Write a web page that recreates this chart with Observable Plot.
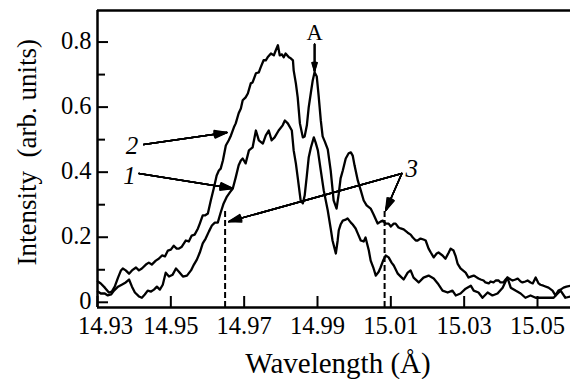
<!DOCTYPE html>
<html>
<head>
<meta charset="utf-8">
<script src="https://cdn.jsdelivr.net/npm/d3@7"></script>
<script src="https://cdn.jsdelivr.net/npm/@observablehq/plot@0.6"></script>
<style>
  html, body { margin: 0; padding: 0; background: #fff; }
  #chart svg { display: block; }
  #chart svg, #chart svg text, #chart svg g { font-family: "Liberation Serif", "Times New Roman", Times, serif !important; }
</style>
</head>
<body>
<div id="chart"></div>
<script>
// ---- Data ----
// Curve 2 (upper spectrum)
const wl2 = [14.9301,14.9309,14.9320,14.9331,14.9339,14.9347,14.9356,14.9364,14.9369,14.9377,
14.9386,14.9394,14.9405,14.9413,14.9421,14.9432,14.9440,14.9448,14.9459,14.9467,
14.9476,14.9484,14.9492,14.9500,14.9508,14.9516,14.9522,14.9530,14.9541,14.9549,
14.9557,14.9565,14.9574,14.9579,14.9587,14.9593,14.9601,14.9609,14.9617,14.9625,
14.9631,14.9636,14.9642,14.9650,14.9658,14.9664,14.9672,14.9677,14.9685,14.9691,
14.9696,14.9704,14.9710,14.9718,14.9723,14.9732,14.9740,14.9745,14.9753,14.9759,
14.9764,14.9773,14.9781,14.9786,14.9792,14.9797,14.9803,14.9808,14.9813,14.9822,
14.9827,14.9833,14.9835,14.9841,14.9846,14.9852,14.9860,14.9865,14.9871,14.9876,
14.9882,14.9887,14.9892,14.9898,14.9903,14.9909,14.9914,14.9920,14.9928,14.9936,
14.9944,14.9952,14.9958,14.9963,14.9969,14.9977,14.9985,14.9991,14.9996,15.0001,
15.0010,15.0018,15.0026,15.0034,15.0045,15.0053,15.0064,15.0072,15.0078,15.0086,
15.0094,15.0100,15.0108,15.0113,15.0121,15.0127,15.0135,15.0146,15.0154,15.0160,
15.0168,15.0173,15.0181,15.0189,15.0195,15.0203,15.0209,15.0217,15.0225,15.0230,
15.0241,15.0249,15.0258,15.0263,15.0271,15.0277,15.0282,15.0290,15.0304,15.0312,
15.0318,15.0326,15.0331,15.0339,15.0345,15.0353,15.0358,15.0367,15.0372,15.0380,
15.0386,15.0394,15.0399,15.0407,15.0413,15.0418,15.0427,15.0432,15.0440,15.0446,
15.0454,15.0459,15.0467,15.0473,15.0481,15.0487,15.0495,15.0503,15.0508,15.0516,
15.0530,15.0541,15.0549,15.0557,15.0563,15.0571,15.0579,15.0590];
const int2 = [0.064,0.058,0.045,0.030,0.033,0.048,0.076,0.098,0.104,0.098,
0.088,0.098,0.107,0.098,0.104,0.116,0.122,0.116,0.128,0.134,
0.144,0.141,0.159,0.162,0.174,0.165,0.165,0.171,0.190,0.187,
0.205,0.208,0.227,0.242,0.267,0.267,0.273,0.313,0.350,0.390,
0.405,0.411,0.436,0.482,0.498,0.513,0.538,0.550,0.581,0.596,
0.621,0.630,0.642,0.673,0.676,0.704,0.707,0.722,0.744,0.744,
0.753,0.765,0.759,0.774,0.790,0.759,0.762,0.753,0.765,0.753,
0.750,0.744,0.713,0.673,0.630,0.550,0.507,0.510,0.544,0.599,
0.645,0.682,0.707,0.694,0.636,0.559,0.510,0.494,0.470,0.405,
0.313,0.288,0.334,0.381,0.405,0.442,0.458,0.461,0.451,0.421,
0.374,0.344,0.313,0.298,0.288,0.270,0.242,0.248,0.251,0.242,
0.242,0.233,0.242,0.242,0.230,0.227,0.224,0.214,0.208,0.199,
0.190,0.190,0.196,0.193,0.190,0.165,0.153,0.138,0.150,0.153,
0.144,0.134,0.153,0.165,0.159,0.141,0.119,0.104,0.091,0.076,
0.079,0.082,0.079,0.073,0.070,0.067,0.061,0.058,0.064,0.061,
0.067,0.067,0.061,0.061,0.070,0.076,0.070,0.067,0.070,0.073,
0.064,0.061,0.064,0.067,0.061,0.058,0.076,0.058,0.054,0.051,
0.045,0.036,0.021,0.036,0.039,0.045,0.048,0.051];

// Curve 1 (lower spectrum)
const wl1 = [14.9301,14.9309,14.9320,14.9328,14.9337,14.9345,14.9356,14.9366,14.9377,14.9386,
14.9394,14.9402,14.9413,14.9421,14.9429,14.9437,14.9446,14.9454,14.9462,14.9470,
14.9478,14.9486,14.9495,14.9505,14.9514,14.9522,14.9533,14.9544,14.9555,14.9563,
14.9571,14.9579,14.9587,14.9595,14.9604,14.9612,14.9620,14.9628,14.9636,14.9644,
14.9653,14.9661,14.9669,14.9677,14.9685,14.9691,14.9696,14.9704,14.9713,14.9723,
14.9732,14.9740,14.9751,14.9759,14.9767,14.9775,14.9783,14.9794,14.9805,14.9811,
14.9819,14.9830,14.9835,14.9841,14.9846,14.9854,14.9860,14.9865,14.9871,14.9876,
14.9882,14.9890,14.9895,14.9901,14.9909,14.9917,14.9928,14.9936,14.9941,14.9950,
14.9955,14.9958,14.9963,14.9969,14.9977,14.9982,14.9991,14.9996,15.0004,15.0010,
15.0018,15.0026,15.0031,15.0040,15.0045,15.0053,15.0059,15.0067,15.0072,15.0080,
15.0086,15.0094,15.0102,15.0108,15.0119,15.0127,15.0135,15.0146,15.0154,15.0162,
15.0176,15.0189,15.0203,15.0217,15.0228,15.0241,15.0255,15.0268,15.0277,15.0290,
15.0304,15.0318,15.0326,15.0339,15.0350,15.0364,15.0377,15.0391,15.0405,15.0418,
15.0427,15.0440,15.0454,15.0467,15.0481,15.0495,15.0508,15.0527,15.0544,15.0555,
15.0563,15.0576,15.0590];
const int1 = [0.033,0.027,0.027,0.021,0.024,0.036,0.048,0.054,0.061,0.070,
0.048,0.030,0.018,0.014,0.024,0.036,0.033,0.039,0.048,0.039,
0.054,0.091,0.079,0.085,0.104,0.094,0.079,0.082,0.098,0.116,
0.131,0.153,0.181,0.196,0.218,0.236,0.245,0.245,0.276,0.304,
0.325,0.338,0.350,0.384,0.421,0.436,0.442,0.427,0.467,0.476,
0.528,0.498,0.488,0.513,0.528,0.498,0.507,0.528,0.544,0.559,
0.550,0.528,0.467,0.427,0.384,0.313,0.304,0.328,0.390,0.445,
0.476,0.507,0.491,0.467,0.405,0.344,0.282,0.227,0.190,0.150,
0.190,0.221,0.239,0.251,0.254,0.258,0.245,0.239,0.227,0.211,
0.190,0.187,0.199,0.159,0.128,0.104,0.082,0.094,0.107,0.131,
0.144,0.138,0.122,0.113,0.088,0.079,0.070,0.091,0.098,0.076,
0.061,0.076,0.082,0.073,0.058,0.036,0.030,0.036,0.021,0.027,
0.042,0.051,0.036,0.030,0.014,0.030,0.021,0.027,0.045,0.076,
0.045,0.036,0.027,0.014,0.021,0.014,0.014,0.014,0.014,0.027,
0.036,0.014,0.018];

// Axis ticks
const xTicks = [14.93, 14.95, 14.97, 14.99, 15.01, 15.03, 15.05];
const yTicks = [0, 0.2, 0.4, 0.6, 0.8];
const yMinorTicks = [0.1, 0.3, 0.5, 0.7];
const xDomain = [14.93, 15.059];
const yDomain = [-0.016, 0.897];

// Annotations (positions, in data units)
const dashedLines = [{x: 14.9648, top: 0.282}, {x: 15.0083, top: 0.282}];
const curveLabels = [
  {label: "2", x: 14.9394, y: 0.482},
  {label: "1", x: 14.9387, y: 0.387},
  {label: "3", x: 15.0157, y: 0.411}
];
const pointerArrows = [
  {x1: 14.9426, y1: 0.485, x2: 14.9653, y2: 0.522},
  {x1: 14.9413, y1: 0.396, x2: 14.9669, y2: 0.350},
  {x1: 15.0130, y1: 0.396, x2: 14.9658, y2: 0.248},
  {x1: 15.0130, y1: 0.396, x2: 15.0086, y2: 0.282},
  {x1: 14.9892, y1: 0.793, x2: 14.9892, y2: 0.710}
];
const peakLabel = [{label: "A", x: 14.9892, y: 0.805}];

const series2 = wl2.map((x, i) => ({x, y: int2[i]}));
const series1 = wl1.map((x, i) => ({x, y: int1[i]}));

const serif = "Liberation Serif";
const headAngles = [34, 26, 18, 10, 4];

const chart = Plot.plot({
  width: 570,
  height: 379,
  marginTop: 10,
  marginBottom: 72,
  marginLeft: 97,
  marginRight: 0,
  style: {background: "#fff", color: "#000"},
  x: {domain: xDomain},
  y: {domain: yDomain},
  marks: [
    // tick labels
    Plot.axisX({ticks: xTicks.slice(1), tickSize: 0, tickPadding: 9, tickFormat: d => d.toFixed(2), fontSize: 24.5, fontFamily: serif, label: null}),
    Plot.axisX({ticks: xTicks.slice(0, 1), tickSize: 0, tickPadding: 9, dx: 8, tickFormat: d => d.toFixed(2), fontSize: 24.5, fontFamily: serif, label: null}),
    Plot.axisY({ticks: yTicks, tickSize: 0, tickPadding: 6, dy: -1, tickFormat: d => d === 0 ? "0" : d.toFixed(1), fontSize: 24.5, fontFamily: serif, label: null}),
    // inward tick marks
    Plot.axisX({ticks: xTicks, tickSize: -11, tickFormat: () => "", strokeWidth: 2, label: null}),
    Plot.axisY({ticks: yTicks, tickSize: -11, tickFormat: () => "", strokeWidth: 2, label: null}),
    Plot.axisY({ticks: yMinorTicks, tickSize: -8, tickFormat: () => "", strokeWidth: 2, label: null}),
    // frame: left, top, bottom
    Plot.ruleX([xDomain[0]], {strokeWidth: 2.5}),
    Plot.ruleY([yDomain[0], yDomain[1]], {strokeWidth: 2.5}),
    // dashed markers
    Plot.ruleX(dashedLines, {x: "x", y1: yDomain[0], y2: "top", strokeWidth: 2, strokeDasharray: "6,3"}),
    // spectra
    Plot.line(series2, {x: "x", y: "y", stroke: "#000", strokeWidth: 2.3, strokeLinejoin: "round"}),
    Plot.line(series1, {x: "x", y: "y", stroke: "#000", strokeWidth: 2.3, strokeLinejoin: "round"}),
    // pointer arrows (layered heads to look filled)
    ...headAngles.map(a => Plot.arrow(pointerArrows, {x1: "x1", y1: "y1", x2: "x2", y2: "y2", stroke: "#000", strokeWidth: 1.5, headAngle: a, headLength: 13})),
    // labels
    Plot.text(curveLabels, {x: "x", y: "y", text: "label", fontSize: 25, fontStyle: "italic", fontFamily: serif, fill: "#000"}),
    Plot.text(peakLabel, {x: "x", y: "y", text: "label", fontSize: 22.5, lineAnchor: "bottom", fontFamily: serif, fill: "#000"}),
    // axis titles
    Plot.text(["Wavelength (Å)"], {text: d => d, frameAnchor: "bottom", textAnchor: "middle", dx: 4, dy: 65, lineAnchor: "bottom", fontSize: 29, fontFamily: serif, fill: "#000"}),
    Plot.text(["Intensity\u00a0 (arb. units)"], {text: d => d, frameAnchor: "left", textAnchor: "middle", rotate: -90, dx: -62, dy: -6.8, lineAnchor: "bottom", fontSize: 27, fontFamily: serif, fill: "#000"})
  ]
});
document.getElementById("chart").appendChild(chart);
</script>
</body>
</html>
